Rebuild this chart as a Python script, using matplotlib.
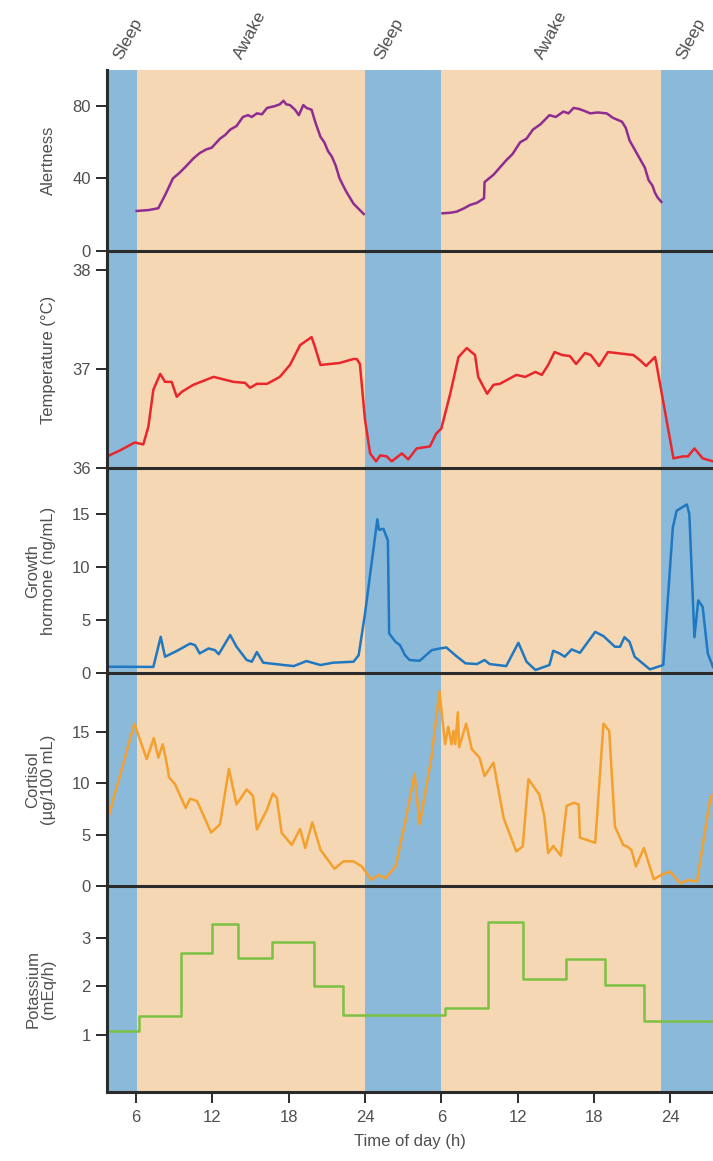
import numpy as np
import matplotlib.pyplot as plt
from matplotlib import transforms

plt.rcParams['font.family'] = ['Liberation Sans', 'DejaVu Sans']

# time of day, hours counted continuously over two days
x_start, x_end = 3.74, 51.36
sleep_bands = [(3.74, 6.05), (24.0, 30.0), (47.3, 51.36)]
tick_pos = [6, 12, 18, 24, 30, 36, 42, 48]
tick_lab = ['6', '12', '18', '24', '6', '12', '18', '24']
phase_lab = ['Sleep', 'Awake', 'Sleep', 'Awake', 'Sleep']
phase_pos = [5.1, 14.5, 25.6, 38.2, 49.3]

# alertness (two waking periods)
alert_t1 = [6.05, 7.0, 7.75, 8.3, 8.9, 9.4, 9.9, 10.5, 11.0, 11.5, 11.95, 12.6, 13.0, 13.4,
            13.9, 14.4, 14.8, 15.1, 15.5, 15.9, 16.3, 16.9, 17.3, 17.6, 17.8, 18.1, 18.5, 18.8,
            19.15, 19.4, 19.8, 20.1, 20.5, 20.8, 21.1, 21.4, 21.7, 22.0, 22.5, 23.1, 23.9]
alert_v1 = [22, 22.5, 23.5, 31, 40, 43, 46.5, 51, 54, 56, 57, 62, 64, 67,
            69, 74, 75, 74, 76, 75.5, 79, 80, 81, 83, 81, 80.6, 78, 75,
            80.6, 79, 78, 71, 63, 60, 55, 52, 47, 40, 33, 26, 20.3]
alert_t2 = [30.1, 30.7, 31.2, 31.8, 32.26, 32.8, 33.36, 33.4, 34.1, 34.6, 35.1, 35.6, 36.2,
            36.7, 37.2, 37.8, 38.5, 39.0, 39.6, 40.0, 40.4, 40.8, 41.2, 41.7, 42.3, 43.0,
            43.5, 44.2, 44.5, 44.8, 45.2, 45.6, 46.0, 46.3, 46.6, 46.8, 47.0, 47.3]
alert_v2 = [20.7, 21.0, 21.6, 23.5, 25.3, 26.5, 29, 38, 42, 46, 50, 53.5, 60,
            62, 67, 70, 75, 74, 77, 76, 79, 78.5, 77.5, 76, 76.5, 76,
            73.5, 71.4, 68, 61, 56, 51, 46, 39, 36, 32, 29.5, 27]

# body temperature
temp_t = [3.74, 4.74, 5.9, 6.57, 6.97, 7.36, 7.9, 8.28, 8.8, 9.2, 9.6, 10.5, 12.1, 13.65,
          14.57, 14.96, 15.5, 16.3, 17.3, 18.1, 18.9, 19.8, 20.07, 20.5, 22.0, 23.1, 23.35,
          23.6, 24.0, 24.4, 24.87, 25.2, 25.7, 26.1, 26.9, 27.4, 28.06, 29.1, 29.6, 30.0,
          30.7, 31.35, 32.0, 32.65, 32.9, 33.6, 34.1, 34.6, 35.9, 36.6, 37.4, 37.9, 38.4,
          38.9, 39.5, 40.1, 40.6, 41.3, 41.75, 42.4, 43.1, 45.1, 45.6, 46.1, 46.8, 46.9,
          48.25, 49.0, 49.4, 49.9, 50.55, 51.36]
temp_v = [36.12, 36.18, 36.26, 36.24, 36.42, 36.79, 36.95, 36.87, 36.87, 36.72, 36.77, 36.84,
          36.92, 36.87, 36.86, 36.81, 36.85, 36.85, 36.92, 37.04, 37.24, 37.32, 37.22, 37.04,
          37.06, 37.1, 37.1, 37.05, 36.49, 36.15, 36.07, 36.13, 36.12, 36.07, 36.15, 36.09,
          36.2, 36.22, 36.35, 36.4, 36.75, 37.12, 37.21, 37.14, 36.92, 36.75, 36.84, 36.85,
          36.94, 36.92, 36.97, 36.94, 37.04, 37.17, 37.14, 37.13, 37.05, 37.16, 37.14, 37.03,
          37.17, 37.14, 37.09, 37.03, 37.12, 37.06, 36.1, 36.12, 36.12, 36.2, 36.1, 36.07]

# growth hormone
gh_t = [3.74, 7.36, 7.94, 8.28, 9.2, 10.25, 10.64, 11.0, 11.7, 12.2, 12.5, 13.4, 13.9, 14.7,
        15.1, 15.5, 16.0, 17.6, 18.4, 19.4, 20.5, 21.5, 23.1, 23.5, 24.0, 24.97, 25.1, 25.45,
        25.8, 25.9, 26.4, 26.75, 27.15, 27.5, 28.3, 29.25, 29.9, 30.4, 31.1, 31.9, 32.8,
        33.4, 33.8, 35.1, 36.06, 36.7, 37.4, 38.5, 38.8, 39.3, 39.7, 40.25, 40.9, 42.1,
        42.75, 43.65, 44.05, 44.4, 44.8, 45.2, 46.4, 47.45, 48.2, 48.5, 49.3, 49.5, 49.9,
        50.2, 50.55, 50.95, 51.36]
gh_v = [0.62, 0.6, 3.43, 1.56, 2.1, 2.8, 2.65, 1.87, 2.34, 2.18, 1.8, 3.6, 2.5, 1.25,
        1.09, 2.0, 1.0, 0.78, 0.68, 1.15, 0.78, 1.0, 1.09, 1.7, 5.6, 14.5, 13.5, 13.6,
        12.5, 3.75, 2.96, 2.65, 1.7, 1.25, 1.18, 2.18, 2.34, 2.43, 1.7, 0.94, 0.87,
        1.25, 0.87, 0.68, 2.87, 1.09, 0.31, 0.78, 2.12, 1.87, 1.56, 2.25, 1.93, 3.9,
        3.5, 2.5, 2.5, 3.4, 2.96, 1.56, 0.37, 0.78, 13.7, 15.3, 15.9, 15.0, 3.4,
        6.87, 6.24, 1.87, 0.6]

# cortisol
cort_t = [3.74, 5.87, 6.84, 7.4, 7.75, 8.1, 8.4, 8.6, 9.07, 9.9, 10.25, 10.8, 11.9, 12.6,
          13.3, 13.9, 14.7, 15.2, 15.5, 16.3, 16.75, 17.06, 17.45, 18.24, 18.9, 19.3, 19.86,
          20.5, 21.6, 22.3, 23.1, 23.75, 24.5, 25.05, 25.6, 26.4, 27.15, 27.9, 28.3, 29.25,
          29.85, 30.3, 30.55, 30.8, 30.95, 31.1, 31.3, 31.4, 31.95, 32.4, 33.0, 33.4, 34.1,
          34.9, 35.9, 36.4, 36.85, 37.7, 38.1, 38.4, 38.8, 39.4, 39.85, 40.4, 40.8, 40.9,
          41.4, 42.1, 42.75, 43.2, 43.65, 44.3, 44.6, 44.95, 45.3, 45.93, 46.7, 47.3, 47.98,
          48.8, 49.4, 50.1, 51.15, 51.36]
cort_v = [6.3, 15.8, 12.35, 14.4, 12.5, 13.8, 12.0, 10.56, 9.9, 7.6, 8.5, 8.26, 5.2, 6.0,
          11.4, 7.94, 9.4, 8.75, 5.5, 7.45, 9.0, 8.6, 5.16, 4.0, 5.55, 3.7, 6.2,
          3.53, 1.67, 2.4, 2.4, 1.9, 0.59, 1.08, 0.75, 1.9, 6.15, 10.9, 6.0, 12.7,
          18.95, 13.8, 15.5, 13.8, 15.1, 13.8, 16.9, 13.5, 15.8, 13.3, 12.5, 10.7, 12.0,
          6.6, 3.36, 3.85, 10.4, 8.9, 6.8, 3.2, 3.9, 2.94, 7.8, 8.1, 7.94, 4.7,
          4.5, 4.2, 15.8, 15.1, 5.8, 4.0, 3.85, 3.5, 1.9, 3.7, 0.66, 1.08, 1.4,
          0.26, 0.59, 0.42, 8.6, 8.9]

# potassium excretion (step values)
k_t = [3.74, 6.26, 9.54, 11.97, 14.04, 16.67, 20.0, 22.25, 30.3, 33.7, 36.4, 39.8, 42.87, 45.93, 51.36]
k_v = [1.07, 1.38, 2.7, 3.3, 2.6, 2.92, 2.0, 1.42, 1.56, 3.34, 2.15, 2.56, 2.04, 1.28, 1.28]

blue = '#8bb9d9'
peach = '#f6d7b3'
txt = '#4f4f4f'
dark = '#2b2b2b'

W, H = 713, 1161
fig = plt.figure(figsize=(W / 100, H / 100), dpi=100)

left = 107.3 / W
edges = [70, 250.7, 468.3, 673.3, 886, 1092.3]
panels = [
    dict(ylim=(0, 100), ticks=[0, 40, 80], label='Alertness'),
    dict(ylim=(36, 38.19), ticks=[36, 37, 38], label='Temperature (°C)'),
    dict(ylim=(0, 19.3), ticks=[0, 5, 10, 15], label='Growth\nhormone (ng/mL)'),
    dict(ylim=(0, 20.7), ticks=[0, 5, 10, 15], label='Cortisol\n(µg/100 mL)'),
    dict(ylim=(-0.19, 4.08), ticks=[1, 2, 3], label='Potassium\n(mEq/h)'),
]

axes = []
for i, p in enumerate(panels):
    top, bot = edges[i], edges[i + 1]
    ax = fig.add_axes([left, 1 - bot / H, 1 - left, (bot - top) / H])
    ax.set_zorder(len(panels) - i)  # upper panel's bottom line stays on top
    ax.set_facecolor(peach)
    for a, b in sleep_bands:
        ax.axvspan(a, b, color=blue, lw=0, zorder=0)
    ax.set_xlim(x_start, x_end)
    ax.set_ylim(*p['ylim'])
    ax.set_yticks(p['ticks'])
    for s in ['top', 'right']:
        ax.spines[s].set_visible(False)
    for s in ['left', 'bottom']:
        ax.spines[s].set_linewidth(2.2)
        ax.spines[s].set_color(dark)
        ax.spines[s].set_zorder(5)
    ax.tick_params(axis='y', direction='out', length=8, width=1.4, color=dark,
                   labelsize=12, labelcolor=txt, pad=4)
    ax.set_ylabel(p['label'], fontsize=12, color=txt, linespacing=1.05)
    ax.yaxis.set_label_coords(-0.085, 0.5)
    if i < len(panels) - 1:
        ax.set_xticks([])
    axes.append(ax)

ax1, ax2, ax3, ax4, ax5 = axes
lw = 1.8
ax1.plot(alert_t1, alert_v1, color='#8e2c91', lw=lw)
ax1.plot(alert_t2, alert_v2, color='#8e2c91', lw=lw)
ax2.plot(temp_t, temp_v, color='#e8262b', lw=lw)
ax3.plot(gh_t, gh_v, color='#1f78c1', lw=lw)
ax4.plot(cort_t, cort_v, color='#f4a02e', lw=lw)
ax5.plot(k_t, k_v, color='#7cc143', lw=lw, drawstyle='steps-post')

ax5.set_xticks(tick_pos)
ax5.set_xticklabels(tick_lab)
ax5.tick_params(axis='x', direction='out', length=8, width=1.4, color=dark,
                labelsize=12, labelcolor=txt, pad=5)
ax5.set_xlabel('Time of day (h)', fontsize=12, color=txt, labelpad=6)

trans = transforms.blended_transform_factory(ax1.transData, ax1.transAxes)
for lab, pos in zip(phase_lab, phase_pos):
    ax1.text(pos, 1.045, lab, transform=trans, rotation=62, rotation_mode='anchor',
             ha='left', va='bottom', fontsize=12.5, color=txt, clip_on=False)

fig.savefig('out.png', dpi=100)
